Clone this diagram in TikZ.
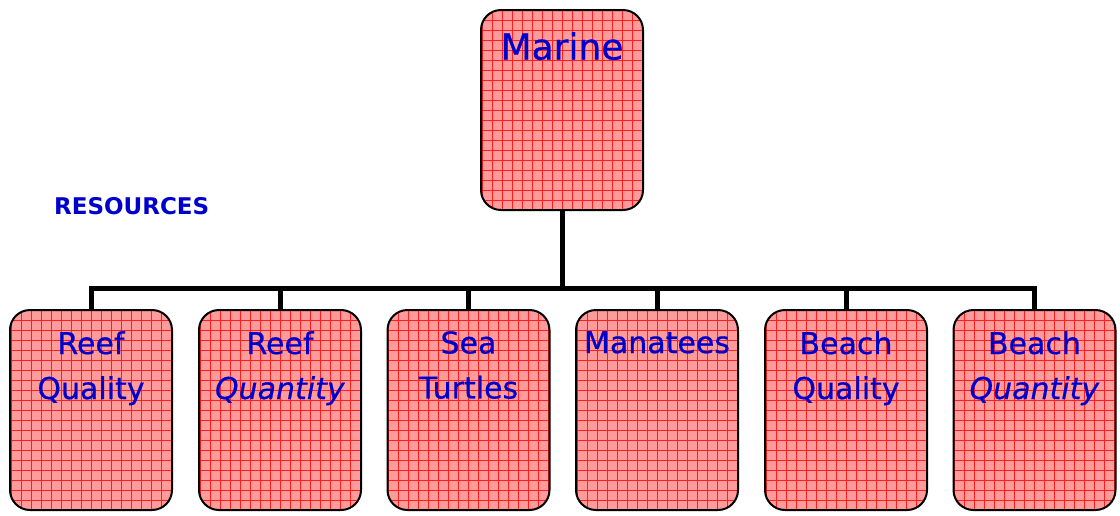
\documentclass[tikz,border=0pt]{standalone}
\usepackage{fontspec}
\setmainfont{DejaVu Sans}
\newfontfamily\boxfont{DejaVu Sans}[FakeBold=0.6]
\definecolor{boxfill}{RGB}{255,155,155}
\definecolor{gridred}{RGB}{255,30,30}
\definecolor{txtblue}{RGB}{0,0,204}
\begin{document}
\begin{tikzpicture}[x=1pt,y=-1pt,
  boxstyle/.style={draw=black, line width=2pt, rounded corners=20pt, fill=boxfill,
    minimum width=162pt, minimum height=200pt, inner sep=0pt,
    path picture={\draw[gridred, line width=0.45pt] (path picture bounding box.south west) grid[step=10pt] (path picture bounding box.north east);}},
  lbl/.style={anchor=north, inner sep=0pt, align=center, text=txtblue, font=\boxfont\fontsize{30}{45}\selectfont},
  conn/.style={line width=5pt, line cap=rect, draw=black}]
\useasboundingbox (0,0) rectangle (1120,515);
% top box
\node[boxstyle] (m) at (562,110) {};
\node[lbl, font=\boxfont\fontsize{36}{45}\selectfont] (mt) at (562,32) {Marine};
% bottom boxes
\node[boxstyle] (b1) at (91,410) {};
\node[boxstyle] (b2) at (280,410) {};
\node[boxstyle] (b3) at (468.5,410) {};
\node[boxstyle] (b4) at (657,410) {};
\node[boxstyle] (b5) at (846,410) {};
\node[boxstyle] (b6) at (1034.5,410) {};
\node[lbl] (t1) at (91,331) {Reef\\Quality};
\node[lbl] (t2) at (280,331) {Reef\\\textit{Quantity}};
\node[lbl] (t3) at (468.5,331) {Sea\\Turtles};
\node[lbl] (t4) at (657,331) {Manatees};
\node[lbl] (t5) at (846,331) {Beach\\Quality};
\node[lbl] (t6) at (1034.5,331) {Beach\\\textit{Quantity}};
\node[anchor=base west, inner sep=0pt, text=txtblue, font=\fontsize{23}{26}\selectfont\bfseries] (res) at (54,214) {RESOURCES};
% connectors
\coordinate (bus) at (562,288);
\draw[conn] (m.south) -- (bus);
\draw[conn] (b1.north |- bus) -- (b6.north |- bus);
\foreach \b in {b1,b2,b3,b4,b5,b6}{
  \draw[conn, line cap=butt] (\b.north) -- (\b.north |- bus);
}
\end{tikzpicture}
\end{document}
